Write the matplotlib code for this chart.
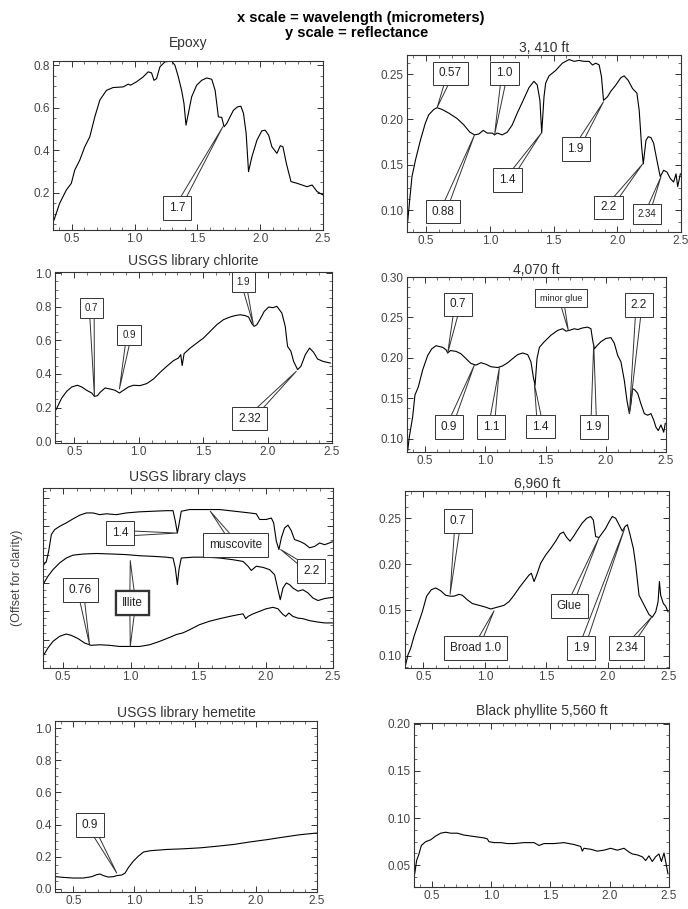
import matplotlib
matplotlib.use("Agg")
import matplotlib.pyplot as plt
from matplotlib.ticker import AutoMinorLocator, FormatStrFormatter, NullFormatter

plt.rcParams["font.family"] = ["Liberation Sans", "DejaVu Sans"]

# ---- spectra (wavelength um, reflectance) ----
epoxy_wl = [0.358, 0.403, 0.456, 0.496, 0.523, 0.563, 0.603, 0.643, 0.683, 0.723, 0.776, 0.829, 0.909,
            0.949, 0.967, 1.015, 1.068, 1.108, 1.135, 1.154, 1.175, 1.201, 1.241, 1.295, 1.321, 1.348,
            1.374, 1.393, 1.409, 1.428, 1.454, 1.494, 1.534, 1.574, 1.614, 1.641, 1.667, 1.694, 1.712,
            1.734, 1.760, 1.787, 1.819, 1.846, 1.867, 1.888, 1.907, 1.934, 1.974, 2.013, 2.040, 2.067,
            2.093, 2.133, 2.160, 2.181, 2.208, 2.245, 2.293, 2.333, 2.373, 2.413, 2.453, 2.500]
epoxy_r = [0.071, 0.150, 0.212, 0.244, 0.306, 0.353, 0.416, 0.463, 0.557, 0.636, 0.682, 0.695, 0.698,
           0.711, 0.706, 0.722, 0.745, 0.769, 0.764, 0.729, 0.737, 0.792, 0.816, 0.819, 0.800, 0.745,
           0.682, 0.620, 0.518, 0.573, 0.651, 0.706, 0.729, 0.740, 0.734, 0.682, 0.557, 0.554, 0.510,
           0.526, 0.557, 0.588, 0.604, 0.607, 0.573, 0.479, 0.299, 0.369, 0.447, 0.491, 0.494, 0.471,
           0.416, 0.385, 0.421, 0.416, 0.338, 0.252, 0.244, 0.236, 0.228, 0.236, 0.205, 0.189]

ft3410_wl = [0.355, 0.371, 0.389, 0.416, 0.455, 0.494, 0.520, 0.560, 0.586, 0.625, 0.678, 0.743, 0.796,
             0.843, 0.880, 0.914, 0.948, 0.979, 1.019, 1.037, 1.058, 1.097, 1.137, 1.176, 1.215, 1.255,
             1.307, 1.346, 1.372, 1.393, 1.407, 1.425, 1.438, 1.464, 1.517, 1.569, 1.622, 1.661, 1.700,
             1.740, 1.779, 1.805, 1.831, 1.858, 1.876, 1.892, 1.923, 1.949, 1.989, 2.028, 2.054, 2.086,
             2.120, 2.154, 2.172, 2.191, 2.204, 2.225, 2.243, 2.264, 2.285, 2.311, 2.337, 2.364, 2.390,
             2.416, 2.442, 2.461, 2.474, 2.495]
ft3410_r = [0.087, 0.111, 0.137, 0.155, 0.177, 0.196, 0.205, 0.211, 0.213, 0.211, 0.207, 0.201, 0.194,
            0.186, 0.183, 0.184, 0.188, 0.185, 0.185, 0.183, 0.185, 0.183, 0.186, 0.194, 0.207, 0.219,
            0.235, 0.242, 0.238, 0.221, 0.185, 0.225, 0.240, 0.248, 0.254, 0.262, 0.266, 0.264, 0.265,
            0.264, 0.264, 0.260, 0.262, 0.260, 0.247, 0.221, 0.225, 0.231, 0.238, 0.246, 0.248, 0.243,
            0.234, 0.229, 0.210, 0.170, 0.151, 0.177, 0.181, 0.180, 0.174, 0.155, 0.137, 0.144, 0.142,
            0.135, 0.131, 0.140, 0.126, 0.140]

chlorite_wl = [0.358, 0.402, 0.441, 0.480, 0.524, 0.557, 0.596, 0.635, 0.656, 0.679, 0.700, 0.739, 0.777,
               0.816, 0.850, 0.881, 0.920, 0.959, 1.010, 1.062, 1.114, 1.166, 1.218, 1.269, 1.308, 1.326,
               1.337, 1.352, 1.399, 1.451, 1.503, 1.554, 1.606, 1.658, 1.710, 1.749, 1.787, 1.826, 1.852,
               1.878, 1.896, 1.917, 1.943, 1.974, 2.008, 2.041, 2.072, 2.111, 2.137, 2.155, 2.181, 2.202,
               2.233, 2.259, 2.293, 2.326, 2.357, 2.388, 2.430, 2.487]
chlorite_r = [0.188, 0.257, 0.297, 0.323, 0.333, 0.323, 0.303, 0.287, 0.267, 0.271, 0.291, 0.317, 0.311,
              0.303, 0.287, 0.303, 0.323, 0.333, 0.331, 0.343, 0.370, 0.410, 0.446, 0.479, 0.495, 0.515,
              0.450, 0.521, 0.554, 0.584, 0.614, 0.653, 0.693, 0.723, 0.739, 0.747, 0.752, 0.747, 0.739,
              0.699, 0.683, 0.693, 0.727, 0.772, 0.798, 0.794, 0.802, 0.762, 0.683, 0.564, 0.535, 0.475,
              0.426, 0.446, 0.515, 0.554, 0.529, 0.489, 0.475, 0.465]

ft4070_wl = [0.356, 0.369, 0.397, 0.416, 0.444, 0.480, 0.522, 0.555, 0.591, 0.618, 0.646, 0.674, 0.688,
             0.710, 0.757, 0.798, 0.840, 0.881, 0.923, 0.964, 1.006, 1.047, 1.103, 1.144, 1.186, 1.227,
             1.269, 1.310, 1.352, 1.379, 1.399, 1.413, 1.429, 1.449, 1.490, 1.545, 1.601, 1.642, 1.670,
             1.698, 1.739, 1.767, 1.808, 1.850, 1.877, 1.891, 1.905, 1.927, 1.960, 2.002, 2.043, 2.071,
             2.099, 2.126, 2.154, 2.176, 2.196, 2.209, 2.223, 2.243, 2.265, 2.292, 2.320, 2.348, 2.375,
             2.398, 2.417, 2.436, 2.458, 2.481, 2.494]
ft4070_r = [0.0856, 0.102, 0.127, 0.154, 0.164, 0.185, 0.203, 0.211, 0.215, 0.214, 0.213, 0.210, 0.206,
            0.209, 0.208, 0.205, 0.199, 0.193, 0.191, 0.194, 0.192, 0.189, 0.188, 0.190, 0.194, 0.199,
            0.204, 0.206, 0.204, 0.195, 0.176, 0.166, 0.199, 0.213, 0.220, 0.228, 0.234, 0.236, 0.233,
            0.234, 0.236, 0.235, 0.237, 0.238, 0.236, 0.222, 0.211, 0.215, 0.220, 0.224, 0.225, 0.218,
            0.203, 0.195, 0.172, 0.147, 0.131, 0.143, 0.162, 0.160, 0.156, 0.143, 0.131, 0.129, 0.131,
            0.123, 0.114, 0.110, 0.117, 0.108, 0.119]

muscovite_wl = [0.357, 0.375, 0.392, 0.412, 0.436, 0.474, 0.523, 0.572, 0.622, 0.671, 0.721, 0.770, 0.820,
                0.894, 0.968, 1.067, 1.165, 1.264, 1.314, 1.331, 1.346, 1.358, 1.375, 1.437, 1.511, 1.585,
                1.660, 1.734, 1.808, 1.882, 1.931, 1.956, 2.005, 2.043, 2.060, 2.080, 2.099, 2.117, 2.141,
                2.166, 2.190, 2.215, 2.252, 2.290, 2.327, 2.364, 2.401, 2.438, 2.495]
muscovite_r = [3.65, 3.76, 4.12, 4.71, 4.88, 5.00, 5.12, 5.26, 5.39, 5.47, 5.47, 5.41, 5.44,
               5.41, 5.47, 5.51, 5.53, 5.55, 5.55, 5.18, 4.76, 5.06, 5.53, 5.59, 5.59, 5.59,
               5.59, 5.55, 5.51, 5.47, 5.44, 5.24, 5.24, 5.29, 5.12, 4.47, 4.18, 4.59, 4.94,
               5.04, 4.85, 4.53, 4.47, 4.38, 4.24, 4.29, 4.41, 4.35, 4.45]

illite_wl = [0.357, 0.387, 0.424, 0.474, 0.523, 0.572, 0.647, 0.745, 0.869, 0.968, 1.067, 1.165, 1.264,
             1.314, 1.331, 1.346, 1.358, 1.375, 1.462, 1.561, 1.660, 1.758, 1.833, 1.870, 1.894, 1.931,
             1.981, 2.030, 2.067, 2.092, 2.109, 2.129, 2.154, 2.178, 2.203, 2.240, 2.277, 2.314, 2.351,
             2.389, 2.438, 2.495]
illite_r = [3.00, 3.24, 3.47, 3.71, 3.88, 3.98, 4.02, 4.04, 4.02, 4.00, 3.96, 3.94, 3.91,
            3.88, 3.53, 2.94, 3.47, 3.88, 3.91, 3.91, 3.88, 3.82, 3.76, 3.59, 3.44, 3.59,
            3.55, 3.47, 3.29, 2.76, 2.41, 2.82, 3.00, 2.94, 2.82, 2.71, 2.76, 2.65, 2.47,
            2.38, 2.45, 2.49]

clay3_wl = [0.357, 0.387, 0.424, 0.474, 0.523, 0.560, 0.609, 0.659, 0.708, 0.770, 0.844, 0.918, 0.992,
            1.067, 1.141, 1.215, 1.289, 1.338, 1.388, 1.437, 1.511, 1.585, 1.660, 1.734, 1.796, 1.833,
            1.853, 1.870, 1.907, 1.956, 2.005, 2.055, 2.092, 2.124, 2.149, 2.173, 2.203, 2.240, 2.277,
            2.327, 2.389, 2.438, 2.495]
clay3_r = [0.47, 0.71, 0.94, 1.12, 1.20, 1.15, 1.04, 0.88, 0.80, 0.82, 0.80, 0.76, 0.76,
           0.76, 0.82, 0.94, 1.08, 1.18, 1.24, 1.35, 1.53, 1.65, 1.74, 1.82, 1.88, 1.91,
           1.74, 1.82, 1.91, 2.00, 2.09, 2.14, 2.09, 1.91, 1.82, 1.94, 1.82, 1.76, 1.74,
           1.67, 1.62, 1.59, 1.59]

ft6960_wl = [0.355, 0.374, 0.396, 0.423, 0.456, 0.491, 0.526, 0.564, 0.600, 0.640, 0.681, 0.717, 0.749,
             0.790, 0.817, 0.858, 0.898, 0.953, 1.007, 1.048, 1.102, 1.156, 1.197, 1.238, 1.279, 1.319,
             1.360, 1.379, 1.401, 1.422, 1.455, 1.496, 1.536, 1.577, 1.612, 1.640, 1.667, 1.694, 1.721,
             1.754, 1.794, 1.830, 1.862, 1.884, 1.903, 1.930, 1.957, 1.984, 2.011, 2.038, 2.066, 2.093,
             2.120, 2.142, 2.161, 2.183, 2.210, 2.229, 2.242, 2.256, 2.283, 2.310, 2.337, 2.364, 2.392,
             2.411, 2.422, 2.432, 2.454, 2.473, 2.492]
ft6960_r = [0.090, 0.101, 0.108, 0.121, 0.134, 0.148, 0.165, 0.172, 0.174, 0.171, 0.166, 0.165, 0.165,
            0.167, 0.166, 0.161, 0.157, 0.155, 0.153, 0.151, 0.153, 0.155, 0.159, 0.166, 0.174, 0.181,
            0.188, 0.190, 0.181, 0.188, 0.201, 0.210, 0.217, 0.225, 0.233, 0.235, 0.229, 0.225, 0.230,
            0.237, 0.245, 0.250, 0.252, 0.248, 0.230, 0.229, 0.234, 0.239, 0.246, 0.252, 0.250, 0.243,
            0.236, 0.241, 0.243, 0.232, 0.217, 0.199, 0.183, 0.166, 0.159, 0.152, 0.145, 0.142, 0.148,
            0.159, 0.181, 0.166, 0.157, 0.154, 0.148]

hematite_wl = [0.358, 0.418, 0.501, 0.583, 0.651, 0.692, 0.720, 0.747, 0.788, 0.829, 0.857, 0.898, 0.925,
               0.953, 0.994, 1.035, 1.076, 1.131, 1.268, 1.404, 1.541, 1.678, 1.815, 1.952, 2.089, 2.226,
               2.363, 2.495]
hematite_r = [0.0755, 0.071, 0.067, 0.067, 0.0755, 0.088, 0.092, 0.082, 0.073, 0.0755, 0.082, 0.086, 0.098,
              0.133, 0.173, 0.204, 0.229, 0.237, 0.245, 0.249, 0.255, 0.265, 0.276, 0.292, 0.306, 0.322,
              0.337, 0.347]

phyllite_wl = [0.356, 0.372, 0.392, 0.412, 0.448, 0.491, 0.533, 0.575, 0.617, 0.659, 0.715, 0.772, 0.828,
               0.884, 0.940, 0.968, 0.982, 1.024, 1.081, 1.137, 1.193, 1.277, 1.362, 1.404, 1.446, 1.530,
               1.615, 1.699, 1.755, 1.769, 1.783, 1.839, 1.896, 1.952, 2.008, 2.064, 2.121, 2.163, 2.190,
               2.233, 2.275, 2.303, 2.331, 2.359, 2.387, 2.415, 2.436, 2.458, 2.475, 2.491]
phyllite_r = [0.041, 0.055, 0.062, 0.071, 0.075, 0.077, 0.081, 0.084, 0.085, 0.084, 0.084, 0.082, 0.081,
              0.080, 0.079, 0.078, 0.075, 0.074, 0.074, 0.073, 0.073, 0.074, 0.074, 0.071, 0.073, 0.073,
              0.074, 0.072, 0.070, 0.065, 0.068, 0.067, 0.065, 0.066, 0.068, 0.066, 0.068, 0.064, 0.062,
              0.061, 0.059, 0.055, 0.060, 0.054, 0.059, 0.062, 0.054, 0.063, 0.052, 0.041]

x_ticks = [0.5, 1.0, 1.5, 2.0, 2.5]

W, H = 688, 909
fig = plt.figure(figsize=(W / 100, H / 100), dpi=100)

GRAY = "#333333"


def make_axes(left, top, right, bottom):
    # pixel box -> figure fraction
    return fig.add_axes([left / W, 1 - bottom / H, (right - left) / W, (bottom - top) / H])


def style(ax, title, pad, ylim, yticks, fmt):
    ax.set_xlim(0.35, 2.5)
    ax.set_ylim(*ylim)
    ax.set_xticks(x_ticks)
    ax.xaxis.set_major_formatter(FormatStrFormatter("%.1f"))
    ax.xaxis.set_minor_locator(AutoMinorLocator(5))
    if yticks is not None:
        ax.set_yticks(yticks)
        ax.yaxis.set_major_formatter(FormatStrFormatter(fmt))
    ax.yaxis.set_minor_locator(AutoMinorLocator(4))
    ax.tick_params(which="both", direction="in", top=True, right=True, colors=GRAY,
                   labelcolor="#444444", labelsize=8.5, pad=2.5)
    ax.tick_params(which="major", length=4, width=0.7)
    ax.tick_params(which="minor", length=2, width=0.5)
    for s in ax.spines.values():
        s.set_color(GRAY)
        s.set_linewidth(0.8)
    ax.set_title(title, fontsize=10, color="#333333", pad=pad)


def note(ax, text, xy, xytext, size=8.5, lw=0.7):
    ax.annotate(text, xy=xy, xytext=xytext, fontsize=size, ha="center", va="center",
                color="#222222",
                bbox=dict(boxstyle="square,pad=0.5", fc="white", ec="#333333", lw=lw),
                arrowprops=dict(arrowstyle="wedge,tail_width=0.5", fc="white", ec="#333333",
                                lw=0.7, shrinkA=0, shrinkB=0, patchA=None))


def spectrum(ax, wl, r):
    ax.plot(wl, r, color="black", lw=0.8)


# Epoxy
ax = make_axes(53, 61, 323, 230)
spectrum(ax, epoxy_wl, epoxy_r)
style(ax, "Epoxy", 10, (0.024, 0.82), [0.2, 0.4, 0.6, 0.8], "%.1f")
note(ax, "1.7", (1.702, 0.51), (1.340, 0.126))

# 3,410 ft
ax = make_axes(407, 55, 681, 232)
spectrum(ax, ft3410_wl, ft3410_r)
style(ax, "3, 410 ft", 1.5, (0.076, 0.271), [0.10, 0.15, 0.20, 0.25], "%.2f")
note(ax, "0.57", (0.586, 0.213), (0.691, 0.2507))
note(ax, "1.0", (1.037, 0.183), (1.116, 0.2507))
note(ax, "0.88", (0.880, 0.183), (0.633, 0.0985))
note(ax, "1.4", (1.404, 0.185), (1.139, 0.133))
note(ax, "1.9", (1.892, 0.2195), (1.674, 0.167))
note(ax, "2.2", (2.199, 0.151), (1.931, 0.103))
note(ax, "2.34", (2.343, 0.137), (2.233, 0.0956), size=7)

# USGS library chlorite
ax = make_axes(55, 272, 332, 443)
spectrum(ax, chlorite_wl, chlorite_r)
style(ax, "USGS library chlorite", 5, (-0.01, 1.006), [0.0, 0.2, 0.4, 0.6, 0.8, 1.0], "%.1f")
note(ax, "0.7", (0.656, 0.267), (0.635, 0.794), size=7)
note(ax, "0.9", (0.850, 0.311), (0.925, 0.632), size=7)
note(ax, "1.9", (1.891, 0.687), (1.813, 0.945), size=7)
note(ax, "2.32", (2.223, 0.416), (1.860, 0.135))

# 4,070 ft
ax = make_axes(407, 277, 666, 452)
spectrum(ax, ft4070_wl, ft4070_r)
style(ax, "4,070 ft", 2, (0.0835, 0.30), [0.10, 0.15, 0.20, 0.25, 0.30], "%.2f")
note(ax, "0.7", (0.688, 0.206), (0.771, 0.266))
note(ax, "minor glue", (1.689, 0.234), (1.628, 0.274), size=6.5)
note(ax, "2.2", (2.196, 0.131), (2.276, 0.265))
note(ax, "0.9", (0.909, 0.191), (0.699, 0.114))
note(ax, "1.1", (1.117, 0.188), (1.050, 0.114))
note(ax, "1.4", (1.407, 0.168), (1.457, 0.115))
note(ax, "1.9", (1.900, 0.2175), (1.900, 0.114))

# USGS library clays (offset)
ax = make_axes(43, 488, 333, 668)
spectrum(ax, muscovite_wl, muscovite_r)
spectrum(ax, illite_wl, illite_r)
spectrum(ax, clay3_wl, clay3_r)
style(ax, "USGS library clays", 5, (0.0, 6.35), [1, 2, 3, 4, 5, 6], "%.0f")
ax.yaxis.set_major_formatter(NullFormatter())
ax.set_ylabel("(Offset for clarity)", fontsize=9, color="#444444", labelpad=12)
note(ax, "1.4", (1.343, 4.76), (0.923, 4.75))
note(ax, "muscovite", (1.590, 5.53), (1.778, 4.35))
note(ax, "2.2", (2.112, 4.18), (2.339, 3.41))
note(ax, "0.76", (0.696, 0.80), (0.627, 2.76))
note(ax, "Illite", (0.997, 3.79), (1.015, 2.29), lw=1.6)
note(ax, "Illite", (0.997, 0.76), (1.015, 2.29), lw=1.6)

# 6,960 ft
ax = make_axes(405, 491, 669, 668)
spectrum(ax, ft6960_wl, ft6960_r)
style(ax, "6,960 ft", 1.5, (0.0866, 0.2798), [0.10, 0.15, 0.20, 0.25], "%.2f")
note(ax, "0.7", (0.717, 0.167), (0.782, 0.247))
note(ax, "Broad 1.0", (1.075, 0.149), (0.926, 0.108))
note(ax, "Glue", (1.930, 0.229), (1.688, 0.154))
note(ax, "1.9", (2.139, 0.239), (1.786, 0.108))
note(ax, "2.34", (2.364, 0.143), (2.155, 0.108))

# USGS library hemetite
ax = make_axes(55, 721, 317, 892)
spectrum(ax, hematite_wl, hematite_r)
style(ax, "USGS library hemetite", 3, (-0.02, 1.045), [0.0, 0.2, 0.4, 0.6, 0.8, 1.0], "%.1f")
note(ax, "0.9", (0.857, 0.098), (0.638, 0.396))

# Black phyllite 5,560 ft
ax = make_axes(414, 723, 669, 887)
spectrum(ax, phyllite_wl, phyllite_r)
style(ax, "Black phyllite 5,560 ft", 6, (0.027, 0.2007), [0.05, 0.10, 0.15, 0.20], "%.2f")

fig.text(361 / W, 1 - 18 / H, "x scale = wavelength (micrometers)", ha="center", va="center",
         fontsize=10.5, fontweight="bold")
fig.text(357 / W, 1 - 33 / H, "y scale = reflectance", ha="center", va="center",
         fontsize=10.5, fontweight="bold")

fig.savefig("out.png", dpi=100)
